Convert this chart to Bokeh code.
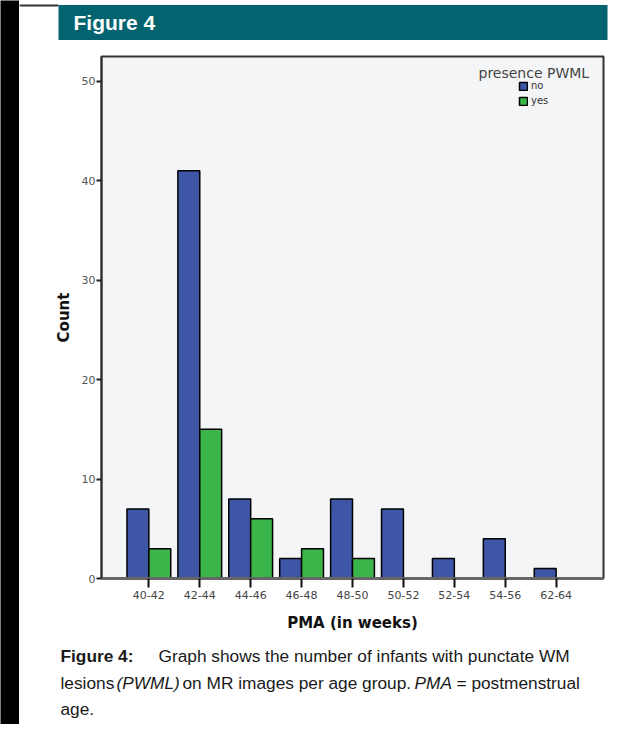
from bokeh.plotting import figure
from bokeh.layouts import row, column
from bokeh.models import (FactorRange, Range1d, Legend, LegendItem, Label,
                          BoxAnnotation, ColumnDataSource, FixedTicker)
from bokeh.transform import dodge
from bokeh.embed import file_html
from bokeh.resources import INLINE

# ---------------- data ----------------
age_groups = ["40-42", "42-44", "44-46", "46-48", "48-50",
              "50-52", "52-54", "54-56", "62-64"]
count_no = [7, 41, 8, 2, 8, 7, 2, 4, 1]
count_yes = [3, 15, 6, 3, 2, 0, 0, 0, 0]
series_labels = ["no", "yes"]
legend_title = "presence PWML"
y_ticks = [0, 10, 20, 30, 40, 50]

BLUE = "#3d56a6"
GREEN = "#3bb44a"
TEAL = "#03636e"

TOTAL_W, TOTAL_H = 617, 724
STRIP_W = 19
COL_W = TOTAL_W - STRIP_W
HEAD_H = 48
MAIN_H = 592
CAP_H = TOTAL_H - HEAD_H - MAIN_H
FL, FR, FT, FB = 101, 603, 56, 578      # frame edges on page


def blank(width, height, **kw):
    f = figure(width=width, height=height, x_range=(0, 1), y_range=(0, 1),
               x_axis_location=None, y_axis_location=None,
               output_backend="svg", toolbar_location=None, min_border=0,
               outline_line_color=None, frame_align=False, **kw)
    f.grid.grid_line_color = None
    return f


def box(left, right, bottom, top, color):
    return BoxAnnotation(left=left, right=right, bottom=bottom, top=top,
                         left_units="screen", right_units="screen",
                         top_units="screen", bottom_units="screen",
                         fill_color=color, fill_alpha=1, line_alpha=0)


# ---------------- black strip ----------------
strip = blank(STRIP_W, TOTAL_H, background_fill_color="black",
              border_fill_color="black")

# ---------------- header ----------------
head = blank(COL_W, HEAD_H, background_fill_color="white",
             border_fill_color="white")
hx = lambda px: px - STRIP_W
hy = lambda py: HEAD_H - py
head.add_layout(box(hx(19), hx(58), hy(6), hy(4), "#333333"))
head.add_layout(box(hx(58), hx(607), hy(39.5), hy(4.5), TEAL))
head.add_layout(Label(x=hx(73), y=hy(22), x_units="screen", y_units="screen",
                      text="Figure 4", text_font="Liberation Sans",
                      text_font_style="bold", text_font_size="21px",
                      text_color="white", text_baseline="middle"))

# ---------------- main chart ----------------
p = figure(width=COL_W, height=MAIN_H,
           x_range=FactorRange(factors=age_groups, range_padding=0.43,
                               range_padding_units="absolute"),
           y_range=Range1d(0, 52.5),
           output_backend="svg", toolbar_location=None, frame_align=False,
           min_border_left=FL - STRIP_W, min_border_right=TOTAL_W - FR,
           min_border_top=FT - HEAD_H,
           min_border_bottom=HEAD_H + MAIN_H - FB)

p.background_fill_color = "#f4f5f7"
p.border_fill_color = "white"
p.outline_line_color = "#333333"
p.outline_line_width = 2
p.xgrid.grid_line_color = None
p.ygrid.grid_line_color = None

src_no = ColumnDataSource(dict(x=age_groups, y=count_no))
yes_idx = [i for i, v in enumerate(count_yes) if v > 0]
src_yes = ColumnDataSource(dict(x=[age_groups[i] for i in yes_idx],
                                y=[count_yes[i] for i in yes_idx]))

r_no = p.vbar(x=dodge("x", -0.215, range=p.x_range), top="y", width=0.43,
              source=src_no, fill_color=BLUE, line_color="black", line_width=1.5)
r_yes = p.vbar(x=dodge("x", 0.215, range=p.x_range), top="y", width=0.43,
               source=src_yes, fill_color=GREEN, line_color="black", line_width=1.5)

p.yaxis.ticker = FixedTicker(ticks=y_ticks)
p.yaxis.minor_tick_line_color = None
p.yaxis.major_tick_out = 5
p.yaxis.major_tick_in = 0
p.yaxis.major_tick_line_color = "#222222"
p.yaxis.major_tick_line_width = 2
p.yaxis.axis_line_color = "#333333"
p.yaxis.axis_line_width = 2
p.yaxis.major_label_text_font = "DejaVu Sans"
p.yaxis.major_label_text_font_size = "11px"
p.yaxis.major_label_text_color = "#555555"
p.yaxis.major_label_standoff = 1
p.yaxis.axis_label = "Count"
p.yaxis.axis_label_text_font = "DejaVu Sans"
p.yaxis.axis_label_text_font_style = "bold"
p.yaxis.axis_label_text_font_size = "15px"
p.yaxis.axis_label_text_color = "#111111"
p.yaxis.axis_label_standoff = 6

p.xaxis.major_tick_out = 9
p.xaxis.major_tick_in = 0
p.xaxis.major_tick_line_color = "#111111"
p.xaxis.major_tick_line_width = 2
p.xaxis.axis_line_color = "#666666"
p.xaxis.axis_line_width = 3
p.xaxis.major_label_text_font = "DejaVu Sans"
p.xaxis.major_label_text_font_size = "11px"
p.xaxis.major_label_text_color = "#444444"
p.xaxis.major_label_standoff = 3
p.xaxis.axis_label = "PMA (in weeks)"
p.xaxis.axis_label_text_font = "DejaVu Sans"
p.xaxis.axis_label_text_font_style = "bold"
p.xaxis.axis_label_text_font_size = "15px"
p.xaxis.axis_label_text_color = "#111111"
p.xaxis.axis_label_standoff = 12

legend = Legend(items=[LegendItem(label=series_labels[0], renderers=[r_no]),
                       LegendItem(label=series_labels[1], renderers=[r_yes])],
                location=(518 - FL, FB - 106), padding=0, margin=0, spacing=4,
                glyph_width=10, glyph_height=10, label_height=10,
                label_standoff=3, label_text_font="DejaVu Sans",
                label_text_font_size="10px", label_text_color="#333333",
                border_line_alpha=0, background_fill_alpha=0)
p.add_layout(legend)

p.add_layout(Label(x=478 - FL, y=FB - 72, x_units="screen", y_units="screen",
                   text=legend_title, text_font="DejaVu Sans",
                   text_font_size="14px", text_color="#444444",
                   text_baseline="middle"))

# ---------------- caption ----------------
cap_fig = blank(COL_W, CAP_H, background_fill_color="white",
                border_fill_color="white")
top_of_cap = HEAD_H + MAIN_H
cx = lambda px: px - STRIP_W
cy = lambda py: (top_of_cap + CAP_H) - py
CF = "Liberation Sans"
CS = "17.3px"
cap = [
    (60, 655, "Figure 4:", "bold"),
    (158, 655, "Graph shows the number of infants with punctate WM", "normal"),
    (60, 682, "lesions", "normal"),
    (116, 682, "(PWML)", "italic"),
    (182, 682, "on MR images per age group.", "normal"),
    (414, 682, "PMA", "italic"),
    (456, 682, "= postmenstrual", "normal"),
    (60, 708, "age.", "normal"),
]
for x0, y0, t, st in cap:
    cap_fig.add_layout(Label(x=cx(x0), y=cy(y0), x_units="screen",
                             y_units="screen", text=t, text_font=CF,
                             text_font_style=st, text_font_size=CS,
                             text_color="#1a1a1a", text_baseline="middle"))

layout = row(strip, column(head, p, cap_fig))
open("out.html", "w").write(file_html(layout, INLINE))
